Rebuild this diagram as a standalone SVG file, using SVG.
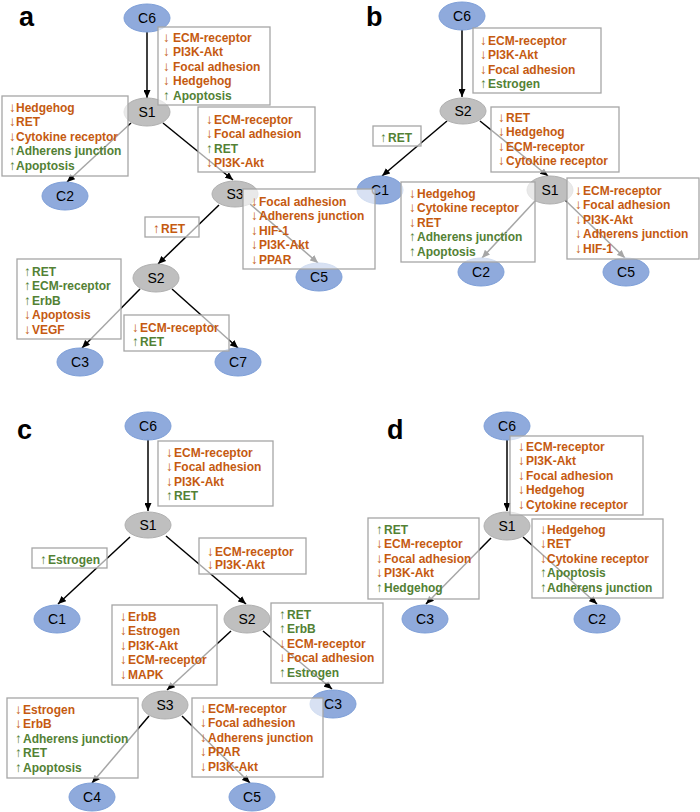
<svg xmlns="http://www.w3.org/2000/svg" width="700" height="812" viewBox="0 0 700 812">
<defs>
<marker id="ah" markerUnits="userSpaceOnUse" markerWidth="8" markerHeight="7" refX="8" refY="3.5" orient="auto">
<path d="M0,0 L8,3.5 L0,7 z" fill="#000"/>
</marker>
<style>
.edge{stroke:#000;stroke-width:1.5;fill:none;marker-end:url(#ah)}
.cn{fill:#8FAADC;stroke:#7E9FD8;stroke-width:1}
.sn{fill:#BFBFBF;stroke:#B0B0B0;stroke-width:1}
.nl{font-family:"Liberation Sans",Arial,sans-serif;font-size:14px;fill:#000;text-anchor:middle}
.box{fill:#fff;fill-opacity:0.65;stroke:#A6A6A6;stroke-width:1.3}
.t{font-family:"Liberation Sans",Arial,sans-serif;font-size:12px;font-weight:bold}
.dn{fill:#C55A11}
.up{fill:#538135}
.ar{font-weight:normal;font-size:13.5px}
.pl{font-family:"Liberation Sans",Arial,sans-serif;font-size:27px;font-weight:bold;fill:#000}
</style>
</defs>
<rect width="700" height="812" fill="#fff"/>
<g id="panel-labels">
<text class="pl" x="19" y="26">a</text>
<text class="pl" x="366" y="26">b</text>
<text class="pl" x="17" y="439">c</text>
<text class="pl" x="387" y="439">d</text>
</g>
<g id="connectors">
<path class="edge" d="M147,32 L147,98"/>
<path class="edge" d="M131,123 L67,182"/>
<path class="edge" d="M163,123 L233,180"/>
<path class="edge" d="M219,205 L158,264"/>
<path class="edge" d="M250,204 L318,263"/>
<path class="edge" d="M140,289 L82,348"/>
<path class="edge" d="M172,289 L238,348"/>
<path class="edge" d="M462,30 L462,97"/>
<path class="edge" d="M447,121 L382,176"/>
<path class="edge" d="M480,121 L548,176"/>
<path class="edge" d="M535,201 L482,258"/>
<path class="edge" d="M565,200 L625,258"/>
<path class="edge" d="M148,440 L148,511"/>
<path class="edge" d="M130,537 L58,604"/>
<path class="edge" d="M166,536 L246,604"/>
<path class="edge" d="M231,631 L167,690"/>
<path class="edge" d="M263,631 L332,689"/>
<path class="edge" d="M149,716 L92,783"/>
<path class="edge" d="M182,716 L250,783"/>
<path class="edge" d="M507,440 L507,511"/>
<path class="edge" d="M491,538 L426,604"/>
<path class="edge" d="M523,537 L597,604"/>
</g>
<!-- panel a nodes -->
<g id="a-C6"><ellipse class="cn" cx="147" cy="18" rx="23" ry="14"/><text class="nl" x="147" y="23">C6</text></g>
<g id="a-S1"><ellipse class="sn" cx="147" cy="112" rx="23" ry="14"/><text class="nl" x="147" y="117">S1</text></g>
<g id="a-C2"><ellipse class="cn" cx="65" cy="196" rx="23" ry="14"/><text class="nl" x="65" y="201">C2</text></g>
<g id="a-S3"><ellipse class="sn" cx="235" cy="194" rx="23" ry="13"/><text class="nl" x="235" y="199">S3</text></g>
<g id="a-C5"><ellipse class="cn" cx="319" cy="277" rx="23" ry="14"/><text class="nl" x="319" y="282">C5</text></g>
<g id="a-S2"><ellipse class="sn" cx="156" cy="278" rx="23" ry="14"/><text class="nl" x="156" y="283">S2</text></g>
<g id="a-C3"><ellipse class="cn" cx="80" cy="362" rx="23" ry="14"/><text class="nl" x="80" y="367">C3</text></g>
<g id="a-C7"><ellipse class="cn" cx="238" cy="362" rx="23" ry="14"/><text class="nl" x="238" y="367">C7</text></g>
<!-- panel b nodes -->
<g id="b-C6"><ellipse class="cn" cx="462" cy="16" rx="23" ry="14"/><text class="nl" x="462" y="21">C6</text></g>
<g id="b-S2"><ellipse class="sn" cx="463" cy="111" rx="23" ry="13"/><text class="nl" x="463" y="116">S2</text></g>
<g id="b-C1"><ellipse class="cn" cx="380" cy="190" rx="23" ry="14"/><text class="nl" x="380" y="195">C1</text></g>
<g id="b-S1"><ellipse class="sn" cx="550" cy="190" rx="23" ry="14"/><text class="nl" x="550" y="195">S1</text></g>
<g id="b-C2"><ellipse class="cn" cx="481" cy="272" rx="23" ry="14"/><text class="nl" x="481" y="277">C2</text></g>
<g id="b-C5"><ellipse class="cn" cx="626" cy="272" rx="23" ry="14"/><text class="nl" x="626" y="277">C5</text></g>
<!-- panel c nodes -->
<g id="c-C6"><ellipse class="cn" cx="148" cy="426" rx="23" ry="14"/><text class="nl" x="148" y="431">C6</text></g>
<g id="c-S1"><ellipse class="sn" cx="148" cy="525" rx="23" ry="13"/><text class="nl" x="148" y="530">S1</text></g>
<g id="c-C1"><ellipse class="cn" cx="57" cy="619" rx="23" ry="14"/><text class="nl" x="57" y="624">C1</text></g>
<g id="c-S2"><ellipse class="sn" cx="247" cy="619" rx="23" ry="14"/><text class="nl" x="247" y="624">S2</text></g>
<g id="c-S3"><ellipse class="sn" cx="165" cy="705" rx="23" ry="14"/><text class="nl" x="165" y="710">S3</text></g>
<g id="c-C3"><ellipse class="cn" cx="333" cy="704" rx="23" ry="14"/><text class="nl" x="333" y="709">C3</text></g>
<g id="c-C4"><ellipse class="cn" cx="92" cy="797" rx="23" ry="14"/><text class="nl" x="92" y="802">C4</text></g>
<g id="c-C5"><ellipse class="cn" cx="252" cy="797" rx="23" ry="14"/><text class="nl" x="252" y="802">C5</text></g>
<!-- panel d nodes -->
<g id="d-C6"><ellipse class="cn" cx="507" cy="426" rx="23" ry="14"/><text class="nl" x="507" y="431">C6</text></g>
<g id="d-S1"><ellipse class="sn" cx="507" cy="526" rx="23" ry="14"/><text class="nl" x="507" y="531">S1</text></g>
<g id="d-C3"><ellipse class="cn" cx="425" cy="619" rx="23" ry="14"/><text class="nl" x="425" y="624">C3</text></g>
<g id="d-C2"><ellipse class="cn" cx="597" cy="619" rx="23" ry="14"/><text class="nl" x="597" y="624">C2</text></g>
<!-- panel a boxes -->
<g id="a-box1"><rect class="box" x="158" y="27" width="112" height="78"/>
<text class="t dn" x="163" y="41.5"><tspan class="ar">↓</tspan><tspan x="173">ECM-receptor</tspan></text>
<text class="t dn" x="163" y="56.1"><tspan class="ar">↓</tspan><tspan x="173">PI3K-Akt</tspan></text>
<text class="t dn" x="163" y="70.7"><tspan class="ar">↓</tspan><tspan x="173">Focal adhesion</tspan></text>
<text class="t dn" x="163" y="85.3"><tspan class="ar">↓</tspan><tspan x="173">Hedgehog</tspan></text>
<text class="t up" x="163" y="99.9"><tspan class="ar">↑</tspan><tspan x="173">Apoptosis</tspan></text></g>
<g id="a-box2"><rect class="box" x="2" y="96" width="126" height="80"/>
<text class="t dn" x="9" y="111.5"><tspan class="ar">↓</tspan><tspan x="16">Hedgehog</tspan></text>
<text class="t dn" x="9" y="126"><tspan class="ar">↓</tspan><tspan x="16">RET</tspan></text>
<text class="t dn" x="9" y="140.5"><tspan class="ar">↓</tspan><tspan x="16">Cytokine receptor</tspan></text>
<text class="t up" x="9" y="155"><tspan class="ar">↑</tspan><tspan x="16">Adherens junction</tspan></text>
<text class="t up" x="9" y="169.5"><tspan class="ar">↑</tspan><tspan x="16">Apoptosis</tspan></text></g>
<g id="a-box3"><rect class="box" x="198" y="107" width="117" height="65"/>
<text class="t dn" x="206" y="123.5"><tspan class="ar">↓</tspan><tspan x="214">ECM-receptor</tspan></text>
<text class="t dn" x="206" y="138"><tspan class="ar">↓</tspan><tspan x="214">Focal adhesion</tspan></text>
<text class="t up" x="206" y="152.5"><tspan class="ar">↑</tspan><tspan x="214">RET</tspan></text>
<text class="t dn" x="206" y="167"><tspan class="ar">↓</tspan><tspan x="214">PI3K-Akt</tspan></text></g>
<g id="a-box4"><rect class="box" x="243" y="189" width="132" height="80"/>
<text class="t dn" x="251" y="205.5"><tspan class="ar">↓</tspan><tspan x="259">Focal adhesion</tspan></text>
<text class="t dn" x="251" y="220"><tspan class="ar">↓</tspan><tspan x="259">Adherens junction</tspan></text>
<text class="t dn" x="251" y="234.5"><tspan class="ar">↓</tspan><tspan x="259">HIF-1</tspan></text>
<text class="t dn" x="251" y="249"><tspan class="ar">↓</tspan><tspan x="259">PI3K-Akt</tspan></text>
<text class="t dn" x="251" y="263.5"><tspan class="ar">↓</tspan><tspan x="259">PPAR</tspan></text></g>
<g id="a-box5"><rect class="box" x="145" y="217" width="54" height="20"/>
<text class="t dn" x="153" y="232.5"><tspan class="ar">↑</tspan><tspan x="161">RET</tspan></text></g>
<g id="a-box6"><rect class="box" x="17" y="259" width="104" height="80"/>
<text class="t up" x="24" y="275.5"><tspan class="ar">↑</tspan><tspan x="32">RET</tspan></text>
<text class="t up" x="24" y="290"><tspan class="ar">↑</tspan><tspan x="32">ECM-receptor</tspan></text>
<text class="t up" x="24" y="304.5"><tspan class="ar">↑</tspan><tspan x="32">ErbB</tspan></text>
<text class="t dn" x="24" y="319"><tspan class="ar">↓</tspan><tspan x="32">Apoptosis</tspan></text>
<text class="t dn" x="24" y="333.5"><tspan class="ar">↓</tspan><tspan x="32">VEGF</tspan></text></g>
<g id="a-box7"><rect class="box" x="124" y="315" width="105" height="36"/>
<text class="t dn" x="132" y="331.5"><tspan class="ar">↓</tspan><tspan x="140">ECM-receptor</tspan></text>
<text class="t up" x="132" y="346"><tspan class="ar">↑</tspan><tspan x="140">RET</tspan></text></g>
<!-- panel b boxes -->
<g id="b-box1"><rect class="box" x="473" y="28" width="128" height="65"/>
<text class="t dn" x="480" y="44.5"><tspan class="ar">↓</tspan><tspan x="488">ECM-receptor</tspan></text>
<text class="t dn" x="480" y="59"><tspan class="ar">↓</tspan><tspan x="488">PI3K-Akt</tspan></text>
<text class="t dn" x="480" y="73.5"><tspan class="ar">↓</tspan><tspan x="488">Focal adhesion</tspan></text>
<text class="t up" x="480" y="88"><tspan class="ar">↑</tspan><tspan x="488">Estrogen</tspan></text></g>
<g id="b-box2"><rect class="box" x="373" y="126" width="48" height="20"/>
<text class="t up" x="380" y="141.5"><tspan class="ar">↑</tspan><tspan x="388">RET</tspan></text></g>
<g id="b-box3"><rect class="box" x="491" y="107" width="128" height="65"/>
<text class="t dn" x="498" y="121.5"><tspan class="ar">↓</tspan><tspan x="506">RET</tspan></text>
<text class="t dn" x="498" y="136"><tspan class="ar">↓</tspan><tspan x="506">Hedgehog</tspan></text>
<text class="t dn" x="498" y="150.5"><tspan class="ar">↓</tspan><tspan x="506">ECM-receptor</tspan></text>
<text class="t dn" x="498" y="165"><tspan class="ar">↓</tspan><tspan x="506">Cytokine receptor</tspan></text></g>
<g id="b-box4"><rect class="box" x="401" y="182" width="134" height="80"/>
<text class="t dn" x="409" y="197.5"><tspan class="ar">↓</tspan><tspan x="417">Hedgehog</tspan></text>
<text class="t dn" x="409" y="212"><tspan class="ar">↓</tspan><tspan x="417">Cytokine receptor</tspan></text>
<text class="t dn" x="409" y="226.5"><tspan class="ar">↓</tspan><tspan x="417">RET</tspan></text>
<text class="t up" x="409" y="241"><tspan class="ar">↑</tspan><tspan x="417">Adherens junction</tspan></text>
<text class="t up" x="409" y="255.5"><tspan class="ar">↑</tspan><tspan x="417">Apoptosis</tspan></text></g>
<g id="b-box5"><rect class="box" x="567" y="178" width="132" height="81"/>
<text class="t dn" x="575" y="194.5"><tspan class="ar">↓</tspan><tspan x="583">ECM-receptor</tspan></text>
<text class="t dn" x="575" y="209"><tspan class="ar">↓</tspan><tspan x="583">Focal adhesion</tspan></text>
<text class="t dn" x="575" y="223.5"><tspan class="ar">↓</tspan><tspan x="583">PI3K-Akt</tspan></text>
<text class="t dn" x="575" y="238"><tspan class="ar">↓</tspan><tspan x="583">Adherens junction</tspan></text>
<text class="t dn" x="575" y="252.5"><tspan class="ar">↓</tspan><tspan x="583">HIF-1</tspan></text></g>
<!-- panel c boxes -->
<g id="c-box1"><rect class="box" x="158" y="441" width="115" height="65"/>
<text class="t dn" x="166" y="456.5"><tspan class="ar">↓</tspan><tspan x="174">ECM-receptor</tspan></text>
<text class="t dn" x="166" y="471"><tspan class="ar">↓</tspan><tspan x="174">Focal adhesion</tspan></text>
<text class="t dn" x="166" y="485.5"><tspan class="ar">↓</tspan><tspan x="174">PI3K-Akt</tspan></text>
<text class="t up" x="166" y="500"><tspan class="ar">↑</tspan><tspan x="174">RET</tspan></text></g>
<g id="c-box2"><rect class="box" x="32" y="548" width="75" height="20"/>
<text class="t up" x="40" y="563.5"><tspan class="ar">↑</tspan><tspan x="48">Estrogen</tspan></text></g>
<g id="c-box3"><rect class="box" x="199" y="538" width="107" height="36"/>
<text class="t dn" x="207" y="555.5"><tspan class="ar">↓</tspan><tspan x="215">ECM-receptor</tspan></text>
<text class="t dn" x="207" y="569"><tspan class="ar">↓</tspan><tspan x="215">PI3K-Akt</tspan></text></g>
<g id="c-box4"><rect class="box" x="112" y="605" width="105" height="80"/>
<text class="t dn" x="120" y="620.5"><tspan class="ar">↓</tspan><tspan x="128">ErbB</tspan></text>
<text class="t dn" x="120" y="635"><tspan class="ar">↓</tspan><tspan x="128">Estrogen</tspan></text>
<text class="t dn" x="120" y="649.5"><tspan class="ar">↓</tspan><tspan x="128">PI3K-Akt</tspan></text>
<text class="t dn" x="120" y="664"><tspan class="ar">↓</tspan><tspan x="128">ECM-receptor</tspan></text>
<text class="t dn" x="120" y="678.5"><tspan class="ar">↓</tspan><tspan x="128">MAPK</tspan></text></g>
<g id="c-box5"><rect class="box" x="271" y="603" width="112" height="80"/>
<text class="t up" x="279" y="618.5"><tspan class="ar">↑</tspan><tspan x="287">RET</tspan></text>
<text class="t up" x="279" y="633"><tspan class="ar">↑</tspan><tspan x="287">ErbB</tspan></text>
<text class="t dn" x="279" y="647.5"><tspan class="ar">↓</tspan><tspan x="287">ECM-receptor</tspan></text>
<text class="t dn" x="279" y="662"><tspan class="ar">↓</tspan><tspan x="287">Focal adhesion</tspan></text>
<text class="t up" x="279" y="676.5"><tspan class="ar">↑</tspan><tspan x="287">Estrogen</tspan></text></g>
<g id="c-box6"><rect class="box" x="7" y="698" width="131" height="80"/>
<text class="t dn" x="15" y="713.5"><tspan class="ar">↓</tspan><tspan x="23">Estrogen</tspan></text>
<text class="t dn" x="15" y="728"><tspan class="ar">↓</tspan><tspan x="23">ErbB</tspan></text>
<text class="t up" x="15" y="742.5"><tspan class="ar">↑</tspan><tspan x="23">Adherens junction</tspan></text>
<text class="t up" x="15" y="757"><tspan class="ar">↑</tspan><tspan x="23">RET</tspan></text>
<text class="t up" x="15" y="771.5"><tspan class="ar">↑</tspan><tspan x="23">Apoptosis</tspan></text></g>
<g id="c-box7"><rect class="box" x="192" y="698" width="131" height="79"/>
<text class="t dn" x="200" y="712.5"><tspan class="ar">↓</tspan><tspan x="208">ECM-receptor</tspan></text>
<text class="t dn" x="200" y="727"><tspan class="ar">↓</tspan><tspan x="208">Focal adhesion</tspan></text>
<text class="t dn" x="200" y="741.5"><tspan class="ar">↓</tspan><tspan x="208">Adherens junction</tspan></text>
<text class="t dn" x="200" y="756"><tspan class="ar">↓</tspan><tspan x="208">PPAR</tspan></text>
<text class="t dn" x="200" y="770.5"><tspan class="ar">↓</tspan><tspan x="208">PI3K-Akt</tspan></text></g>
<!-- panel d boxes -->
<g id="d-box1"><rect class="box" x="510" y="436" width="133" height="79"/>
<text class="t dn" x="518" y="450.5"><tspan class="ar">↓</tspan><tspan x="526">ECM-receptor</tspan></text>
<text class="t dn" x="518" y="465"><tspan class="ar">↓</tspan><tspan x="526">PI3K-Akt</tspan></text>
<text class="t dn" x="518" y="479.5"><tspan class="ar">↓</tspan><tspan x="526">Focal adhesion</tspan></text>
<text class="t dn" x="518" y="494"><tspan class="ar">↓</tspan><tspan x="526">Hedgehog</tspan></text>
<text class="t dn" x="518" y="508.5"><tspan class="ar">↓</tspan><tspan x="526">Cytokine receptor</tspan></text></g>
<g id="d-box2"><rect class="box" x="532" y="519" width="131" height="79"/>
<text class="t dn" x="540" y="533.5"><tspan class="ar">↓</tspan><tspan x="547">Hedgehog</tspan></text>
<text class="t dn" x="540" y="548"><tspan class="ar">↓</tspan><tspan x="547">RET</tspan></text>
<text class="t dn" x="540" y="562.5"><tspan class="ar">↓</tspan><tspan x="547">Cytokine receptor</tspan></text>
<text class="t up" x="540" y="577"><tspan class="ar">↑</tspan><tspan x="547">Apoptosis</tspan></text>
<text class="t up" x="540" y="591.5"><tspan class="ar">↑</tspan><tspan x="547">Adherens junction</tspan></text></g>
<g id="d-box3"><rect class="box" x="368" y="518" width="111" height="81"/>
<text class="t up" x="376" y="533.5"><tspan class="ar">↑</tspan><tspan x="384">RET</tspan></text>
<text class="t dn" x="376" y="548"><tspan class="ar">↓</tspan><tspan x="384">ECM-receptor</tspan></text>
<text class="t dn" x="376" y="562.5"><tspan class="ar">↓</tspan><tspan x="384">Focal adhesion</tspan></text>
<text class="t dn" x="376" y="577"><tspan class="ar">↓</tspan><tspan x="384">PI3K-Akt</tspan></text>
<text class="t up" x="376" y="591.5"><tspan class="ar">↑</tspan><tspan x="384">Hedgehog</tspan></text></g>
</svg>
